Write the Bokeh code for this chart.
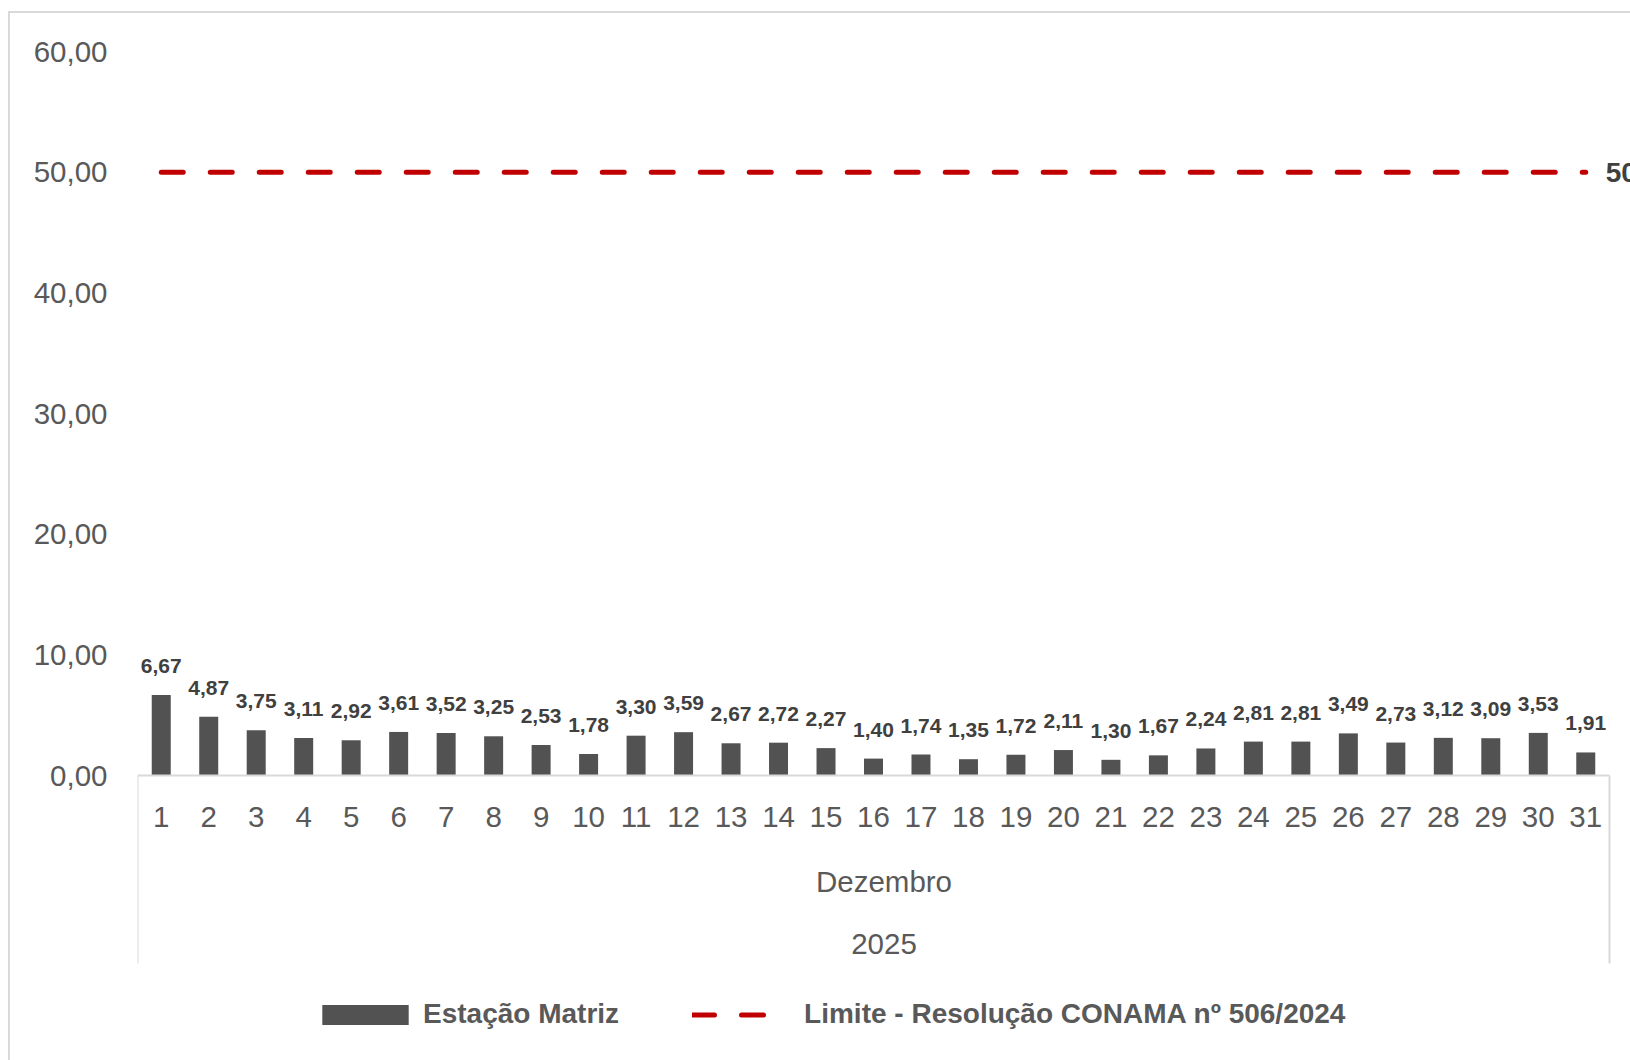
from bokeh.plotting import figure
from bokeh.models import (Range1d, ColumnDataSource, LinearAxis, FixedTicker,
                          Legend, LegendItem)
from bokeh.embed import file_html
from bokeh.resources import INLINE
from bokeh.core.properties import value

# ---- data ----
days = ["1", "2", "3", "4", "5", "6", "7", "8", "9", "10", "11", "12", "13", "14", "15", "16",
        "17", "18", "19", "20", "21", "22", "23", "24", "25", "26", "27", "28", "29", "30", "31"]
values = [6.67, 4.87, 3.75, 3.11, 2.92, 3.61, 3.52, 3.25, 2.53, 1.78, 3.30, 3.59, 2.67, 2.72, 2.27, 1.40,
          1.74, 1.35, 1.72, 2.11, 1.30, 1.67, 2.24, 2.81, 2.81, 3.49, 2.73, 3.12, 3.09, 3.53, 1.91]
month = "Dezembro"
year = "2025"
limit_days = ["1", "31"]
limit_values = [50.0, 50.0]
limit_label = "50,00"
y_ticks = [0, 10, 20, 30, 40, 50, 60]
y_tick_labels = ["0,00", "10,00", "20,00", "30,00", "40,00", "50,00", "60,00"]
series_name = "Estação Matriz"
limit_name = "Limite - Resolução CONAMA nº 506/2024"

# ---- derived ----
pos = {d: i + 0.5 for i, d in enumerate(days)}          # centre of each day slot
value_labels = [f"{v:.2f}".replace(".", ",") for v in values]

FONT = "Liberation Sans"
GRAY = "#595959"
FIG_W, FIG_H = 1630, 1060
LEFT = 137                # left edge of the day slots
CAT_SPAN_PX = 1472        # width taken by the 31 day slots
FRAME_W = FIG_W - LEFT    # frame runs to the right edge of the page
FRAME_TOP = 51            # pixel row of y = 60
BASE_Y = 775              # pixel row of y = 0
Y_MAX = 60
px_per_unit = (BASE_Y - FRAME_TOP) / Y_MAX
y_min = -(FIG_H - BASE_Y) / px_per_unit
x_end = len(days) * FRAME_W / CAT_SPAN_PX
NAN = float("nan")

src = ColumnDataSource(data=dict(x=[pos[d] for d in days], value=values, label=value_labels))

p = figure(x_range=Range1d(0, x_end), y_range=Range1d(y_min, Y_MAX),
           frame_width=FRAME_W, frame_height=FIG_H - FRAME_TOP, output_backend="svg",
           toolbar_location=None, x_axis_location=None,
           min_border_left=LEFT, min_border_right=0, min_border_top=FRAME_TOP, min_border_bottom=0)
p.outline_line_color = None
p.xgrid.visible = False
p.ygrid.visible = False
p.stylesheets = [":host::before { content: ''; position: absolute; left: 8px; top: 11px; "
                 "width: 1620px; height: 1049px; border-left: 2px solid #d9d9d9; "
                 "border-top: 2px solid #d9d9d9; pointer-events: none; z-index: 5; }"]

bars = p.vbar(x="x", top="value", width=0.4, source=src, fill_color="#525252", line_color=None)
p.text(x="x", y="value", text="label", source=src, text_align="center", text_baseline="alphabetic",
       y_offset=-29, text_font=value(FONT), text_font_style="bold", text_font_size="21px",
       text_color="#404040")

p.line(x=[pos[d] for d in limit_days], y=limit_values, line_color="#c00000", line_width=5,
       line_dash="22 27", line_cap="round")
# legend swatch of the limit line (two dashes); its points are not drawable
proxy = p.line(x=[NAN, NAN], y=[NAN, NAN], line_color="#c00000", line_width=5,
               line_dash="22 27 22 300", line_cap="round")

# label of the limit line, right of its last point
p.text(x=[pos[limit_days[-1]]], y=[limit_values[-1]], text=[limit_label], x_offset=20,
       text_baseline="middle", text_align="left", text_font=value(FONT), text_font_style="bold",
       text_font_size="28px", text_color="#404040")

# baseline of the category axis (only across the day slots)
p.line(x=[0, len(days)], y=[0, 0], line_color="#d9d9d9", line_width=2)

# y axis
ya = p.yaxis[0]
ya.ticker = FixedTicker(ticks=y_ticks)
ya.major_label_overrides = {t: l for t, l in zip(y_ticks, y_tick_labels)}
ya.axis_line_color = None
ya.major_tick_line_color = None
ya.minor_tick_line_color = None
ya.major_tick_out = 0
ya.major_tick_in = 0
ya.major_label_standoff = 30
ya.major_label_text_font = FONT
ya.major_label_text_font_size = "29.5px"
ya.major_label_text_color = GRAY

# x axis (days + month), drawn at y = 0
xa = LinearAxis(fixed_location=0, ticker=FixedTicker(ticks=[pos[d] for d in days]),
                major_label_overrides={pos[d]: d for d in days},
                axis_line_color=None, major_tick_line_color=None, minor_tick_line_color=None,
                major_tick_out=0, major_tick_in=0, minor_tick_out=0, minor_tick_in=0,
                major_label_standoff=31, major_label_text_font=FONT,
                major_label_text_font_size="29.5px", major_label_text_color=GRAY,
                axis_label=month, axis_label_standoff=35, axis_label_text_font=FONT,
                axis_label_text_font_size="29.5px", axis_label_text_font_style="normal",
                axis_label_text_color=GRAY)
p.add_layout(xa, "below")

# year level of the category axis
yr = LinearAxis(fixed_location=0, ticker=FixedTicker(ticks=[]), axis_label=year, axis_line_color=None,
                major_tick_line_color=None, minor_tick_line_color=None,
                major_tick_out=0, major_tick_in=0, minor_tick_out=0, minor_tick_in=0,
                major_label_standoff=0, axis_label_standoff=158, axis_label_text_font=FONT,
                axis_label_text_font_size="29.5px", axis_label_text_font_style="normal",
                axis_label_text_color=GRAY)
p.add_layout(yr, "below")

# outer separators of the category axis
sep = LinearAxis(fixed_location=0, ticker=FixedTicker(ticks=[], minor_ticks=[0, len(days)]),
                 axis_line_color=None, major_tick_line_color=None, major_tick_out=0, major_tick_in=0,
                 minor_tick_line_color="#d9d9d9", minor_tick_line_width=2,
                 minor_tick_in=0, minor_tick_out=188, major_label_standoff=0)
p.add_layout(sep, "below")

legend = Legend(items=[LegendItem(label=series_name, renderers=[bars]),
                       LegendItem(label=limit_name, renderers=[proxy])],
                orientation="horizontal", location=(174, 30), glyph_width=108, glyph_height=25,
                label_standoff=4, spacing=73, padding=0, margin=0,
                border_line_color=None, background_fill_alpha=0,
                label_text_font=FONT, label_text_font_style="bold",
                label_text_font_size="28px", label_text_color=GRAY)
p.add_layout(legend)

open("out.html", "w").write(file_html(p, INLINE))
